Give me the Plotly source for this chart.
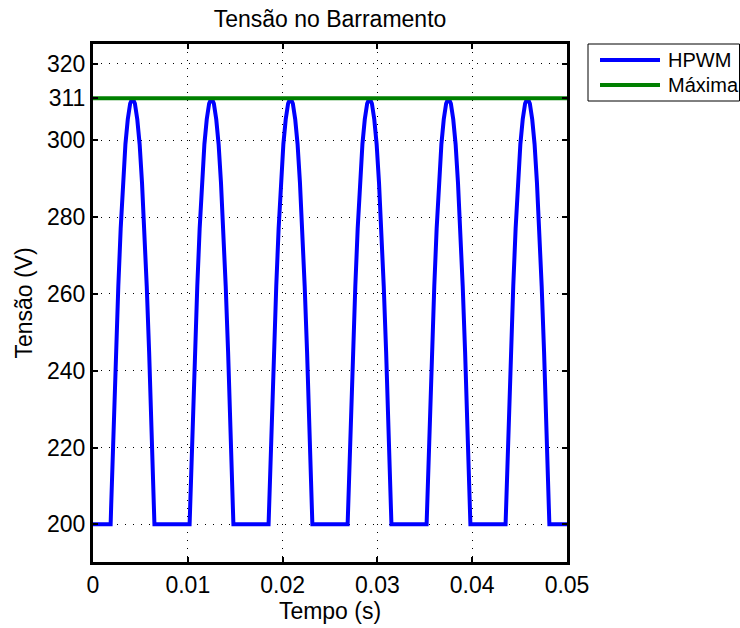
import plotly.graph_objects as go

# Data
peak_times = [0.00417, 0.01250, 0.02083, 0.02917, 0.03750, 0.04583]
hump_offsets = [-0.00231, -0.00225, -0.00200, -0.00175, -0.00150, -0.00125, -0.00100,
                -0.00075, -0.00050, -0.00025, 0.0, 0.00025, 0.00050, 0.00075, 0.00100,
                0.00125, 0.00150, 0.00175, 0.00200, 0.00225, 0.00231]
hump_values = [200, 205, 226, 245, 262, 277, 289, 299, 305.5, 309.6, 311,
               309.6, 305.5, 299, 289, 277, 262, 245, 226, 205, 200]
t_start, t_end = 0.0, 0.05
v_floor = 200
v_max = 311

series_names = ["HPWM", "Máxima"]
series_colors = ["#0000ff", "#008000"]

x_ticks = [0, 0.01, 0.02, 0.03, 0.04, 0.05]
x_tick_labels = ["0", "0.01", "0.02", "0.03", "0.04", "0.05"]
y_ticks = [200, 220, 240, 260, 280, 300, 311, 320]

# Build HPWM series from the named arrays
t = [t_start]
v = [v_floor]
for p in peak_times:
    for off, val in zip(hump_offsets, hump_values):
        t.append(p + off)
        v.append(val)
t.append(t_end)
v.append(v_floor)

font = "Liberation Sans, Arial, Helvetica, sans-serif"
FS = 23

# Figure geometry (page body margin removed in post_script)
W_FIG, H_FIG = 740, 628
L, T, PW, PH = 93, 44, 474, 518
R = W_FIG - L - PW
B = H_FIG - T - PH


def px(fx):
    return (fx - L) / PW


def py(fy):
    return 1 - (fy - T) / PH


fig = go.Figure()
fig.add_trace(go.Scatter(x=t, y=v, mode="lines", name=series_names[0],
                         line=dict(color=series_colors[0], width=4), showlegend=False))
fig.add_trace(go.Scatter(x=[t_start, t_end], y=[v_max, v_max], mode="lines",
                         name=series_names[1],
                         line=dict(color=series_colors[1], width=4), showlegend=False))

axis_common = dict(
    showline=True, linecolor="black", linewidth=3, mirror="ticks",
    ticks="inside", ticklen=5, tickwidth=1.5, tickcolor="black",
    showgrid=True, gridcolor="black", gridwidth=1, griddash="1px,7px",
    zeroline=False, tickfont=dict(size=FS, color="black", family=font),
)

fig.update_xaxes(range=[0, 0.05], tickvals=x_ticks, ticktext=x_tick_labels,
                 title=dict(text="Tempo (s)", font=dict(size=FS, color="black", family=font),
                            standoff=0),
                 **axis_common)
fig.update_yaxes(range=[190.2, 325.1], tickvals=y_ticks,
                 title=dict(text="Tensão (V)", font=dict(size=FS, color="black", family=font),
                            standoff=8),
                 **axis_common)

# Legend box drawn like the original (long line samples)
shapes = [dict(type="rect", xref="paper", yref="paper",
               x0=px(588), x1=px(739.5), y0=py(101), y1=py(44),
               line=dict(color="black", width=1), fillcolor="white", layer="above")]
annotations = []
for i, (name, col) in enumerate(zip(series_names, series_colors)):
    yy = 60 + 25 * i
    shapes.append(dict(type="line", xref="paper", yref="paper",
                       x0=px(600), x1=px(660), y0=py(yy), y1=py(yy),
                       line=dict(color=col, width=4), layer="above"))
    annotations.append(dict(text=name, xref="paper", yref="paper",
                            x=px(666), y=py(yy), xanchor="left", yanchor="middle",
                            showarrow=False,
                            font=dict(size=20, color="black", family=font)))

fig.update_layout(
    width=W_FIG, height=H_FIG,
    margin=dict(l=L, r=R, t=T, b=B),
    paper_bgcolor="white", plot_bgcolor="white",
    font=dict(family=font, size=FS, color="black"),
    title=dict(text="Tensão no Barramento", x=(L + PW / 2) / W_FIG, xanchor="center",
               xref="container", yref="container",
               y=1 - 19 / H_FIG, yanchor="middle",
               font=dict(size=FS, color="black", family=font)),
    showlegend=False,
    shapes=shapes,
    annotations=annotations,
)

fig.write_html("out.html",
               config={"displayModeBar": False},
               post_script="document.body.style.margin='0';"
                           "document.documentElement.style.margin='0';")
